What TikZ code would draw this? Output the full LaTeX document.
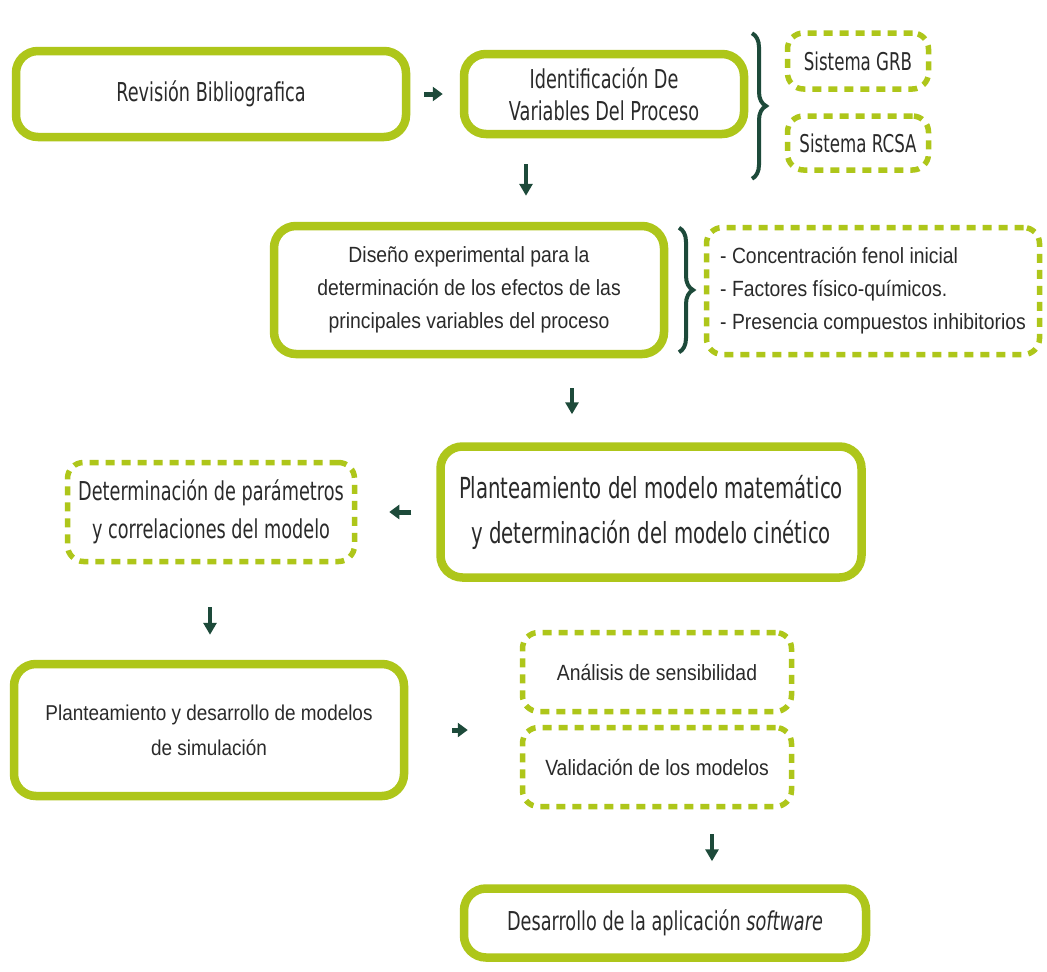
\documentclass[tikz,border=0pt]{standalone}
\usepackage{fontspec}
\setmainfont{Liberation Sans}
\newfontfamily\fa{DejaVu Sans}[FakeStretch=0.68]
\newfontfamily\fb{Liberation Sans}[FakeStretch=0.88]
\usetikzlibrary{arrows.meta,decorations.pathreplacing}
\definecolor{boxlime}{HTML}{AEC61A}
\definecolor{darkgr}{HTML}{1D4A3A}
\definecolor{txtgray}{HTML}{2A2A2A}

\tikzset{
  solidbox/.style={draw=boxlime, line width=8.5pt, rounded corners=22pt, fill=white,
    align=center, text=txtgray, inner sep=0pt},
  dashbox/.style={draw=boxlime, line width=5.5pt, dash pattern=on 9pt off 7pt,
    rounded corners=16pt, align=center, text=txtgray, inner sep=0pt},
  harr/.style={darkgr, line width=5pt, -{Triangle[length=10pt,width=14pt]}},
  varr/.style={darkgr, line width=4pt, -{Triangle[length=12pt,width=13pt]}},
  brc/.style={darkgr, line width=4pt, decorate, decoration={brace, amplitude=14pt}},
}

\begin{document}
\begin{tikzpicture}[x=1pt,y=-1pt]
\useasboundingbox[fill=white] (0,0) rectangle (1047,972);

% first row
\node[solidbox, minimum width=390pt, minimum height=86pt,
  font=\fa\fontsize{26pt}{30pt}\selectfont] (b1) at (211,94) {Revisión Bibliografica};
\node[solidbox, minimum width=280pt, minimum height=80pt,
  font=\fa\fontsize{26pt}{32pt}\selectfont] (b2) at (604,94) {Identificación De\\Variables Del Proceso};
\node[dashbox, minimum width=141pt, minimum height=56pt,
  font=\fa\fontsize{24.5pt}{28pt}\selectfont] (grb) at (858,61) {Sistema GRB};
\node[dashbox, minimum width=141pt, minimum height=54pt,
  font=\fa\fontsize{24.5pt}{28pt}\selectfont] (rcsa) at (858,143) {Sistema RCSA};

% experimental design row
\node[solidbox, minimum width=390pt, minimum height=128pt,
  font=\fb\fontsize{22pt}{33pt}\selectfont] (b3) at (469,290)
  {Diseño experimental para la\\determinación de los efectos de las\\principales variables del proceso};
\node[dashbox, minimum width=333pt, minimum height=127pt, align=left,
  font=\fb\fontsize{22pt}{33pt}\selectfont] (d3) at (873,291)
  {- Concentración fenol inicial\\- Factores físico-químicos.\\- Presencia compuestos inhibitorios};

% model row
\node[solidbox, minimum width=421pt, minimum height=131pt,
  font=\fa\fontsize{29pt}{45pt}\selectfont] (b4) at (651,512)
  {Planteamiento del modelo matemático\\y determinación del modelo cinético};
\node[dashbox, minimum width=287pt, minimum height=99pt,
  font=\fa\fontsize{26pt}{38pt}\selectfont] (d4) at (211,512)
  {Determinación de parámetros\\y correlaciones del modelo};

% simulation row
\node[solidbox, minimum width=390pt, minimum height=132pt,
  font=\fb\fontsize{21.5pt}{35pt}\selectfont] (b5) at (209,730)
  {Planteamiento y desarrollo de modelos\\de simulación};
\node[dashbox, minimum width=269pt, minimum height=79pt,
  font=\fb\fontsize{22pt}{30pt}\selectfont] (d5a) at (657,672) {Análisis de sensibilidad};
\node[dashbox, minimum width=269pt, minimum height=79pt,
  font=\fb\fontsize{22pt}{30pt}\selectfont] (d5b) at (657,767) {Validación de los modelos};

% final box
\node[solidbox, minimum width=402pt, minimum height=69pt,
  font=\fa\fontsize{26pt}{30pt}\selectfont] (b6) at (665,923)
  {Desarrollo de la aplicación \textit{software}};

% braces
\coordinate (br1) at (752,0);
\coordinate (br2) at (679,0);
\draw[brc] ([yshift=-3pt]grb.north -| br1) -- ([yshift=-6pt]rcsa.south -| br1);
\draw[brc] ([yshift=-3pt]d3.north -| br2) -- ([yshift=5pt]d3.south -| br2);

% arrows
\coordinate (ax1) at (526,0);
\coordinate (ax2) at (572,0);
\coordinate (ax3) at (210,0);
\coordinate (ax4) at (712,0);
\draw[harr, shorten <=14pt, shorten >=17pt] (b1.east) -- (b2.west);
\draw[varr, shorten <=26pt, shorten >=26pt] (b2.south -| ax1) -- (b3.north -| ax1);
\draw[varr, shorten <=30pt, shorten >=28pt] (b3.south -| ax2) -- (b4.north -| ax2);
\draw[harr, shorten <=25pt, shorten >=32pt] (b4.west) -- (d4.east);
\draw[varr, shorten <=43pt, shorten >=25pt] (d4.south -| ax3) -- (b5.north -| ax3);
\draw[harr, shorten <=44pt, shorten >=52pt] (b5.east) -- (b5.east -| d5b.west);
\draw[varr, shorten <=25pt, shorten >=23pt] (d5b.south -| ax4) -- (b6.north -| ax4);
\end{tikzpicture}
\end{document}
